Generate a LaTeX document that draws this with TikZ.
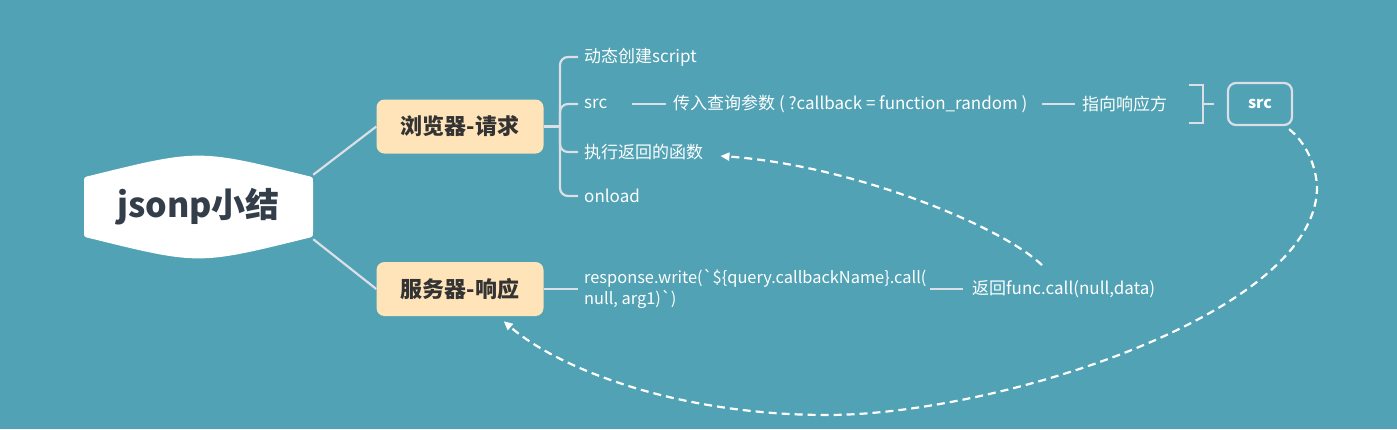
\documentclass[tikz,border=0pt]{standalone}
\usepackage{fontspec}
\setmainfont{Noto Sans CJK SC}[Ligatures=TeXOff]
\usetikzlibrary{arrows.meta}
\definecolor{bgteal}{RGB}{80,162,180}
\definecolor{linegray}{RGB}{218,224,230}
\definecolor{peach}{RGB}{255,228,186}
\definecolor{darktext}{RGB}{51,51,51}
\definecolor{roottext}{RGB}{52,62,75}
\tikzset{
  conn/.style={draw=linegray, line width=2.2pt},
  topicbox/.style={fill=peach, rounded corners=8pt, minimum width=167pt, minimum height=54pt,
    font=\fontsize{22}{26}\selectfont\bfseries, text=darktext},
  leaf/.style={anchor=west, inner sep=0pt, text=white, font=\fontsize{17}{21}\selectfont},
  flow/.style={draw=white, line width=2.2pt, dash pattern=on 8pt off 5pt,
    -{Triangle[length=9pt,width=8pt]}},
}
\begin{document}
\begin{tikzpicture}[x=1pt,y=-1pt]
    \fill[bgteal] (0,0) rectangle (1397,429);
    \useasboundingbox (0,0) rectangle (1397,429);

    % Root Shape
    \fill[white] (84,232) -- (84,182) .. controls (84,177) .. (91,175.5)
      .. controls (198.5,149) .. (306,175.5) .. controls (313,177) .. (313,182)
      -- (313,232) .. controls (313,237) .. (306,238.5)
      .. controls (198.5,265) .. (91,238.5) .. controls (84,237) .. (84,232) -- cycle;
    \node[font=\fontsize{34}{40}\selectfont\bfseries, text=roottext, minimum width=229pt, minimum height=64pt] (root) at (198.5,207) {jsonp小结};

    % Main Topics
    \node[topicbox] (req) at (460,126.5) {浏览器-请求};
    \node[topicbox] (resp) at (460,289) {服务器-响应};
    \draw[conn] (root.north east) -- (req.west);
    \draw[conn] (root.south east) -- (resp.west);

    % Request Branch
    \node[leaf] (dyn) at (584,57) {动态创建script};
    \node[leaf] (src) at (584,104) {src};
    \node[leaf] (exec) at (584,152) {执行返回的函数};
    \node[leaf] (onl) at (584,196) {onload};
    \coordinate (fork) at (560,126.5);
    \draw[conn] (req.east) -- (fork);
    \draw[conn, rounded corners=8pt] ([xshift=-6pt]dyn.west) -| (fork) |- ([xshift=-6pt]onl.west);
    \draw[conn, rounded corners=8pt] ([xshift=-6pt]src.west) -| (fork);
    \draw[conn, rounded corners=8pt] ([xshift=-6pt]exec.west) -| (fork);

    % Src Row
    \node[leaf] (query) at (673,104) {传入查询参数 ( ?callback = function\_random )};
    \draw[conn] ([xshift=25pt]src.east) -- ([xshift=-7pt]query.west);
    \node[leaf] (point) at (1082,104) {指向响应方};
    \draw[conn] ([xshift=-40pt]point.west) -- ([xshift=-7pt]point.west);
    \node[draw=linegray, line width=2.2pt, rounded corners=8pt, minimum width=64pt, minimum height=42pt,
      text=white, font=\fontsize{16}{20}\selectfont\bfseries] (srcbox) at (1260,104) {src};
    \coordinate (brk) at (1203,104);
    \draw[conn] ([shift={(-14,-19)}]brk) -- ++(14,0) -- ++(0,38) -- ++(-14,0);
    \draw[conn] (brk) -- ([xshift=-13pt]srcbox.west);

    % Response Row
    \node[leaf, align=left, font=\fontsize{16.4}{21}\selectfont] (write) at (584,289) {response.write(`\$\{query.callbackName\}.call(\\null, arg1)`)};
    \draw[conn] (resp.east) -- ([xshift=-6pt]write.west);
    \node[leaf] (ret) at (972,289) {返回func.call(null,data)};
    \draw[conn] ([xshift=-42pt]ret.west) -- ([xshift=-9pt]ret.west);

    % Dashed Flows
    \draw[flow] ([shift={(-4,3)}]srcbox.south east) .. controls (1305,142) and (1317,165) .. (1317,190)
      .. controls (1312,315) and (995,415) .. (827,415)
      .. controls (680,415) and (560,370) .. ([shift={(-40,5)}]resp.south east);
    \draw[flow] ([shift={(70,-15)}]ret.north west) .. controls (1000,225) and (850,165) .. ([shift={(17,4)}]exec.east);
\end{tikzpicture}
\end{document}
